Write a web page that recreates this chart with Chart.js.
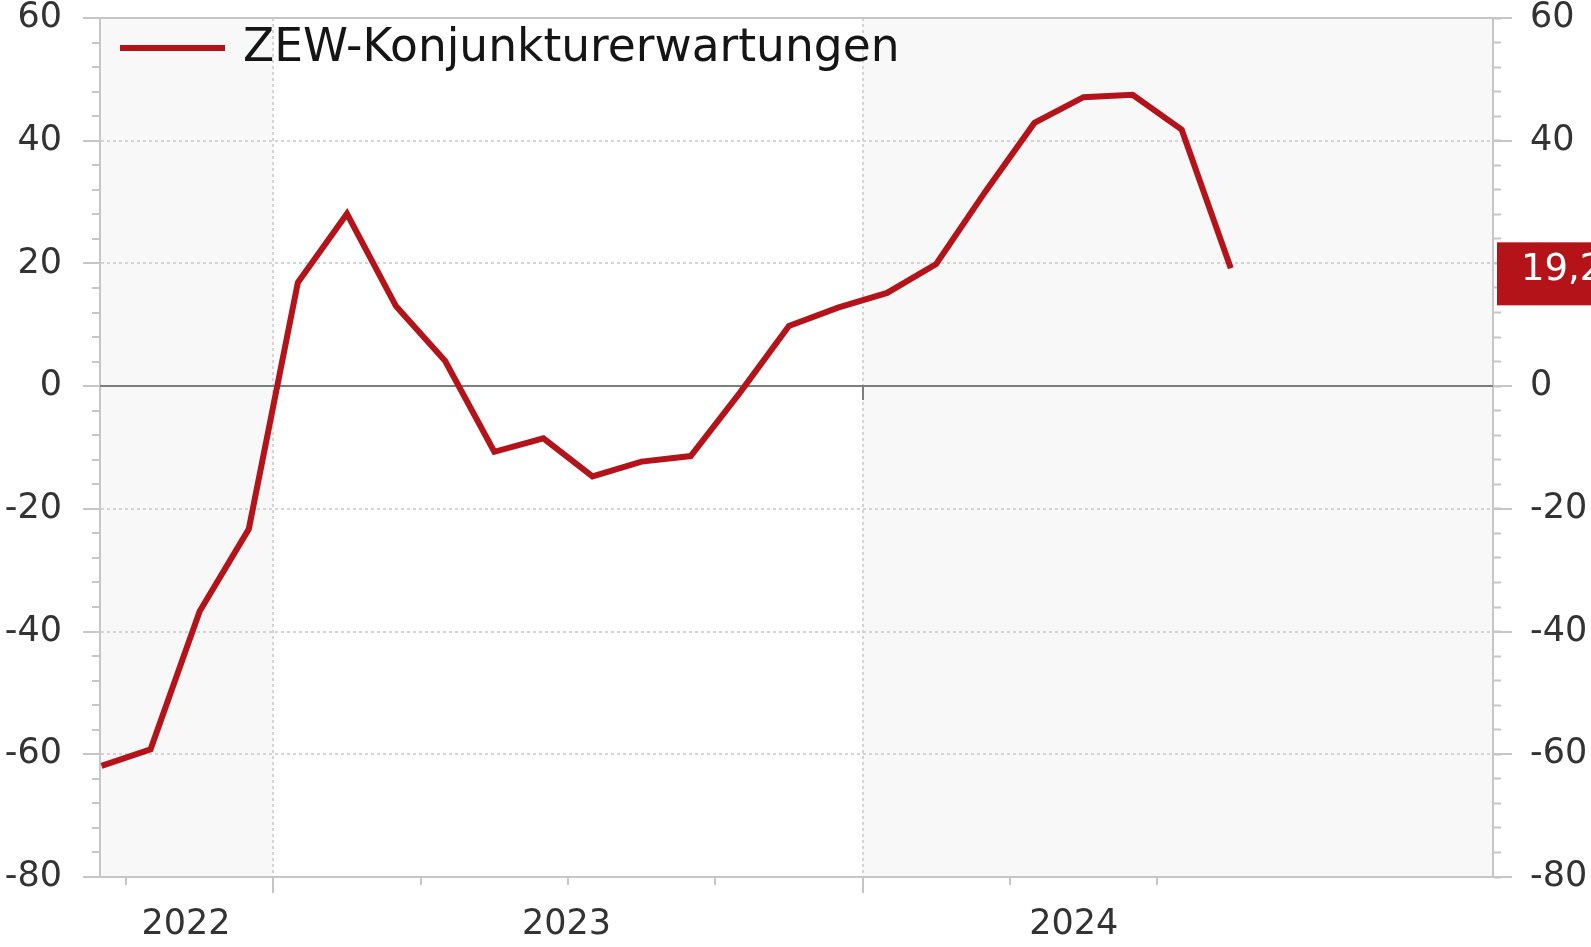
<!DOCTYPE html>
<html lang="de">
<head>
<meta charset="UTF-8">
<title>ZEW-Konjunkturerwartungen</title>
<script src="https://cdn.jsdelivr.net/npm/chart.js@4.4.1/dist/chart.umd.min.js"></script>
<style>
  body { margin: 0; background: #fff; }
  #wrap { width: 1591px; height: 947px; }
</style>
</head>
<body>
<div id="wrap"><canvas id="chart"></canvas></div>
<script>
// ZEW-Konjunkturerwartungen, monthly (Sep 2022 - Aug 2024)
var months = ['2022-09', '2022-10', '2022-11', '2022-12',
              '2023-01', '2023-02', '2023-03', '2023-04', '2023-05', '2023-06',
              '2023-07', '2023-08', '2023-09', '2023-10', '2023-11', '2023-12',
              '2024-01', '2024-02', '2024-03', '2024-04', '2024-05', '2024-06',
              '2024-07', '2024-08'];
var zew = [-61.9, -59.2, -36.7, -23.3,
           16.9, 28.1, 13.0, 4.1, -10.7, -8.5,
           -14.7, -12.3, -11.4, -1.1, 9.8, 12.8,
           15.2, 19.9, 31.7, 42.9, 47.1, 47.5,
           41.8, 19.2];

// x axis is in months counted from Jan 2023
var yearLabels = ['2022', '2023', '2024'];
var yearLabelPos = [-1.78, 5.97, 16.3];
var quarterTicks = [-3, 0, 3, 6, 9, 12, 15, 18];
var yearStarts = [0, 12];

var RED = '#b41419';
var AXIS = '#c6c6c6';
var GRID = '#d4d4d4';
var TXT = '#333333';
var FONT = 'DejaVu Sans';

function monthPos(s) {
    var p = s.split('-');
    return (parseInt(p[0]) - 2023) * 12 + (parseInt(p[1]) - 1) + 0.5;
}

var points = months.map(function (m, i) { return { x: monthPos(m), y: zew[i] }; });

// background bands, zero line and long ticks
var extras = {
    id: 'extras',
    beforeDraw: function (chart) {
        var ctx = chart.ctx, a = chart.chartArea, x = chart.scales.x;
        ctx.save();
        ctx.fillStyle = '#f8f8f8';
        var x0 = x.getPixelForValue(yearStarts[0]);
        var x1 = x.getPixelForValue(yearStarts[1]);
        ctx.fillRect(a.left, a.top, x0 - a.left, a.bottom - a.top);
        ctx.fillRect(x1, a.top, a.right - x1, a.bottom - a.top);
        ctx.restore();
    },
    beforeDatasetsDraw: function (chart) {
        var ctx = chart.ctx, a = chart.chartArea, y = chart.scales.y, x = chart.scales.x;
        ctx.save();
        ctx.lineWidth = 2;
        ctx.strokeStyle = AXIS;
        for (var v = -80; v <= 60; v += 20) {
            var py = Math.round(y.getPixelForValue(v));
            ctx.beginPath();
            if (v === 60 || v === -80) {
                ctx.moveTo(a.left - 17, py); ctx.lineTo(a.right + 19, py);
            } else {
                ctx.moveTo(a.left - 17, py); ctx.lineTo(a.left, py);
                ctx.moveTo(a.right, py); ctx.lineTo(a.right + 19, py);
            }
            ctx.stroke();
        }
        yearStarts.forEach(function (m) {
            var px = Math.round(x.getPixelForValue(m));
            ctx.beginPath();
            ctx.moveTo(px, a.bottom); ctx.lineTo(px, a.bottom + 16);
            ctx.stroke();
        });
        var z = Math.round(y.getPixelForValue(0));
        ctx.strokeStyle = '#7d7d7d';
        ctx.beginPath();
        ctx.moveTo(a.left, z); ctx.lineTo(a.right, z);
        ctx.stroke();
        var zx = Math.round(x.getPixelForValue(12));
        ctx.beginPath();
        ctx.moveTo(zx, z - 1); ctx.lineTo(zx, z + 14);
        ctx.stroke();
        ctx.restore();
    },
    afterDraw: function (chart) {
        var ctx = chart.ctx, a = chart.chartArea, y = chart.scales.y;
        ctx.save();
        // legend
        ctx.strokeStyle = RED;
        ctx.lineWidth = 6;
        ctx.beginPath();
        ctx.moveTo(120, 48); ctx.lineTo(225, 48);
        ctx.stroke();
        ctx.fillStyle = '#151515';
        ctx.font = '45.5px "' + FONT + '"';
        ctx.textBaseline = 'middle';
        ctx.fillText(chart.data.datasets[0].label, 243, 49);
        // last value box
        var last = zew[zew.length - 1];
        var py = y.getPixelForValue(last);
        ctx.fillStyle = RED;
        ctx.fillRect(a.right + 4, py - 26, 200, 63);
        ctx.fillStyle = '#fff';
        ctx.font = '37px "' + FONT + '"';
        ctx.fillText(last.toFixed(1).replace('.', ','), 1521, py + 2);
        ctx.restore();
    }
};

var yTickOpts = {
    autoSkip: false,
    stepSize: 4,
    color: TXT,
    font: { family: FONT, size: 35 },
    padding: 30,
    callback: function (v) { return v % 20 === 0 ? String(v) : ''; }
};

function noPadY(s, w) {
    s.width = w;
    s.paddingTop = 0;
    s.paddingBottom = 0;
}

new Chart(document.getElementById('chart'), {
    type: 'line',
    data: {
        datasets: [{
            label: 'ZEW-Konjunkturerwartungen',
            data: points,
            borderColor: RED,
            borderWidth: 6,
            pointRadius: 0,
            tension: 0,
            yAxisID: 'y'
        }]
    },
    options: {
        responsive: true,
        maintainAspectRatio: false,
        animation: false,
        layout: { padding: { top: 18, right: 0, left: 0, bottom: 0 } },
        plugins: { legend: { display: false }, tooltip: { enabled: false } },
        scales: {
            x: {
                type: 'linear',
                min: -3.53,
                max: 24.84,
                afterBuildTicks: function (s) {
                    s.ticks = quarterTicks.concat(yearLabelPos)
                        .sort(function (p, q) { return p - q; })
                        .map(function (v) { return { value: v }; });
                },
                afterFit: function (s) {
                    s.height = 70;
                    s.paddingLeft = 0;
                    s.paddingRight = 0;
                },
                ticks: {
                    autoSkip: false,
                    maxRotation: 0,
                    color: TXT,
                    font: { family: FONT, size: 35 },
                    padding: 19,
                    callback: function (v) {
                        var i = yearLabelPos.indexOf(v);
                        return i >= 0 ? yearLabels[i] : '';
                    }
                },
                grid: {
                    tickLength: 8,
                    tickWidth: 2,
                    lineWidth: 2,
                    color: function (c) {
                        return c.tick && yearStarts.indexOf(c.tick.value) >= 0 ? GRID : 'rgba(0,0,0,0)';
                    },
                    tickColor: function (c) {
                        return c.tick && quarterTicks.indexOf(c.tick.value) >= 0 ? AXIS : 'rgba(0,0,0,0)';
                    }
                },
                border: { display: true, color: AXIS, width: 2, dash: [3, 3] }
            },
            y: {
                position: 'left',
                min: -80,
                max: 60,
                afterFit: function (s) { noPadY(s, 100); },
                ticks: yTickOpts,
                grid: {
                    tickLength: 8,
                    tickWidth: 2,
                    lineWidth: 2,
                    tickColor: AXIS,
                    color: function (c) {
                        var v = c.tick ? c.tick.value : null;
                        return (v !== null && v % 20 === 0 && v !== 0 && v !== 60 && v !== -80) ? GRID : 'rgba(0,0,0,0)';
                    }
                },
                border: { display: true, color: AXIS, width: 2, dash: [3, 3] }
            },
            y2: {
                position: 'right',
                min: -80,
                max: 60,
                afterFit: function (s) { noPadY(s, 98); },
                ticks: Object.assign({}, yTickOpts, { padding: 29 }),
                grid: {
                    drawOnChartArea: false,
                    tickLength: 8,
                    tickWidth: 2,
                    tickColor: AXIS
                },
                border: { display: true, color: AXIS, width: 2 }
            }
        }
    },
    plugins: [extras]
});
</script>
</body>
</html>
